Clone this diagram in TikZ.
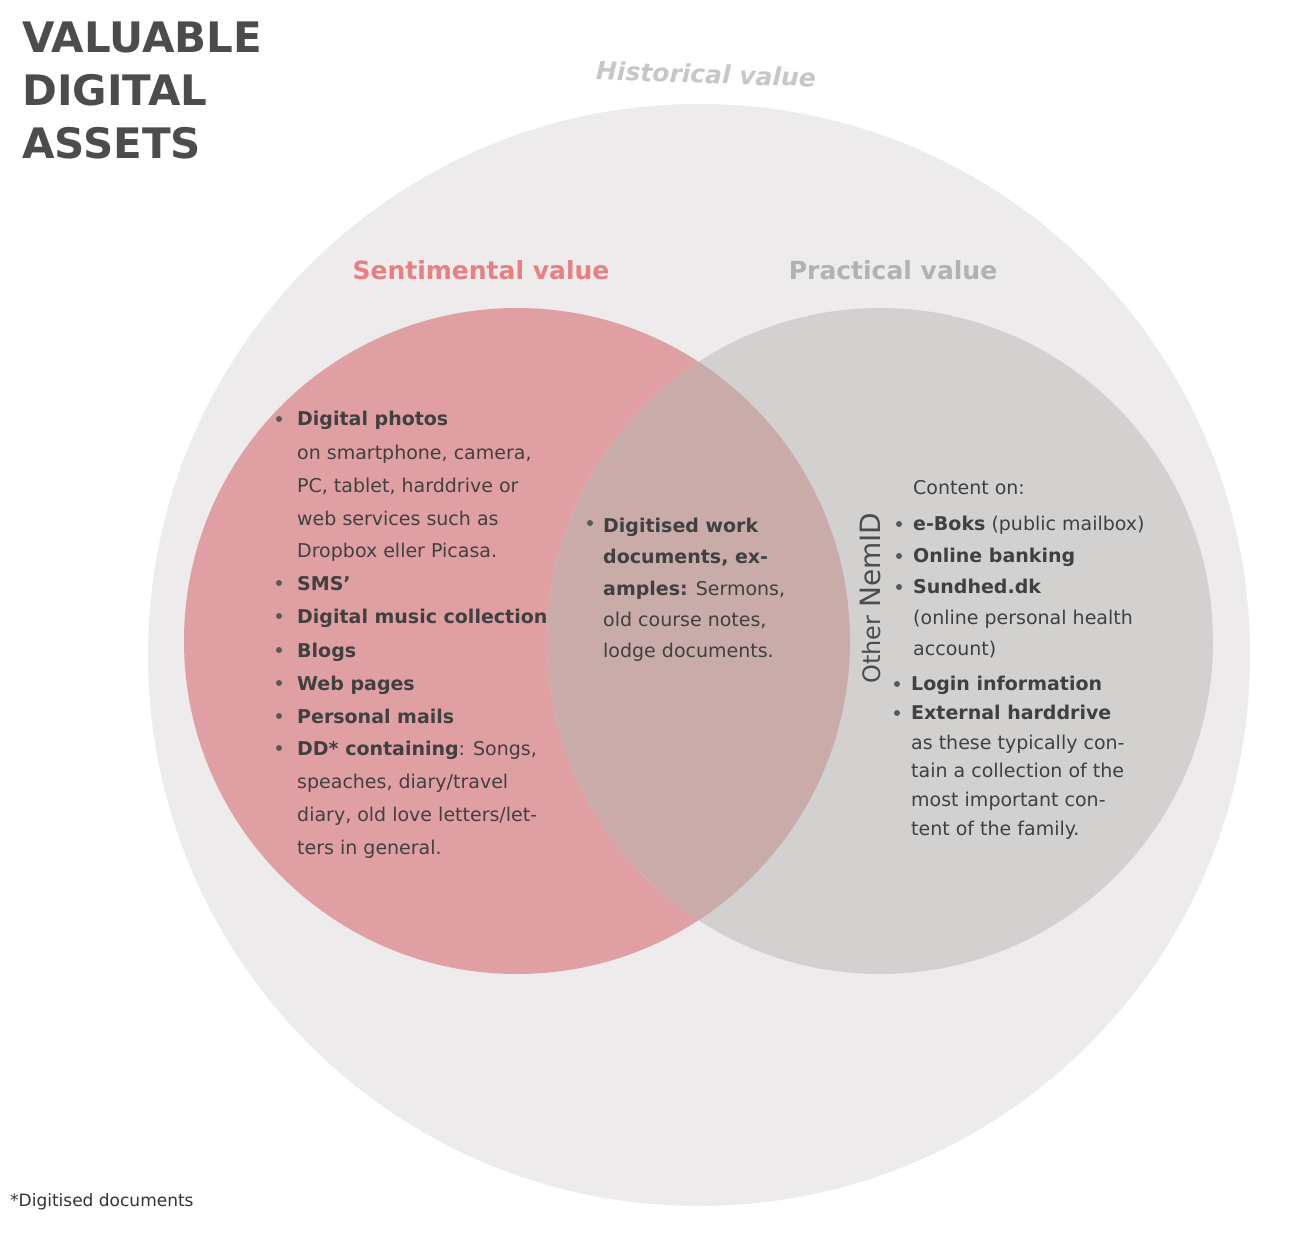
\documentclass[tikz,border=0pt]{standalone}
\usepackage{fontspec}
\setmainfont{DejaVu Sans}
\begin{document}
\begin{tikzpicture}[x=1pt,y=-1pt,
  txt/.style={anchor=base west,inner sep=0pt,text=black!75,font=\fontsize{19}{22}\selectfont},
  bul/.style={circle,fill=black!65,inner sep=0pt,minimum size=6pt},
  head/.style={inner sep=0pt,font=\bfseries\fontsize{25}{28}\selectfont}]
\definecolor{big}{HTML}{EDEBEB}
\definecolor{pink}{HTML}{E0A0A3}
\definecolor{grayc}{HTML}{D2D1D0}
\definecolor{ovl}{HTML}{C9ABAA}
\useasboundingbox (0,0) rectangle (1292,1238);
\fill[white] (0,0) rectangle (1292,1238);
\fill[big] (699,655) circle (551);
\fill[pink] (517,641) circle (333);
\fill[grayc] (880,641) circle (333);
\begin{scope}
\clip (517,641) circle (333);
\fill[ovl] (880,641) circle (333);
\end{scope}
\node[anchor=north west,inner sep=0pt,align=left,text=black!70,font=\bfseries\fontsize{42}{53}\selectfont] (title) at (22,22) {VALUABLE\\DIGITAL\\ASSETS};
\node[head,text=black!22,font=\bfseries\itshape\fontsize{25}{28}\selectfont,rotate=-2] (hist) at (706,74) {Historical value};
\node[head,text=pink!80!red] (sent) at (481,270) {Sentimental value};
\node[head,text=black!30] (prac) at (893,270) {Practical value};
\newcommand{\tl}[4]{\node[txt] (#1) at (#2,#3+7) {#4};}
\newcommand{\bl}[3]{\node[bul] (#1) at (#2,#3) {};}
% left
\bl{b1}{279}{419}\tl{l1}{297}{418}{\textbf{Digital photos}}
\tl{l2}{297}{452}{on smartphone, camera,}
\tl{l3}{297}{485}{PC, tablet, harddrive or}
\tl{l4}{297}{518}{web services such as}
\tl{l5}{297}{550}{Dropbox eller Picasa.}
\bl{b2}{279}{583}\tl{l6}{297}{583}{\textbf{SMS’}}
\bl{b3}{279}{616}\tl{l7}{297}{616}{\textbf{Digital music collection}}
\bl{b4}{279}{650}\tl{l8}{297}{650}{\textbf{Blogs}}
\bl{b5}{279}{683}\tl{l9}{297}{683}{\textbf{Web pages}}
\bl{b6}{279}{716}\tl{l10}{297}{716}{\textbf{Personal mails}}
\bl{b7}{279}{748}\tl{l11}{297}{748}{\textbf{DD* containing}: Songs,}
\tl{l12}{297}{781}{speaches, diary/travel}
\tl{l13}{297}{814}{diary, old love letters/let-}
\tl{l14}{297}{847}{ters in general.}
% middle
\bl{b8}{590}{523}\tl{m1}{603}{525}{\textbf{Digitised work}}
\tl{m2}{603}{556}{\textbf{documents, ex-}}
\tl{m3}{603}{588}{\textbf{amples:} Sermons,}
\tl{m4}{603}{619}{old course notes,}
\tl{m5}{603}{650}{lodge documents.}
% right
\tl{r1}{913}{487}{Content on:}
\bl{b9}{899}{524}\tl{r2}{913}{523}{\textbf{e-Boks} (public mailbox)}
\bl{b10}{899}{556}\tl{r3}{913}{555}{\textbf{Online banking}}
\bl{b11}{899}{587}\tl{r4}{913}{586}{\textbf{Sundhed.dk}}
\tl{r5}{913}{617}{(online personal health}
\tl{r6}{913}{648}{account)}
\bl{b12}{897}{684}\tl{r7}{911}{683}{\textbf{Login information}}
\bl{b13}{897}{713}\tl{r8}{911}{712}{\textbf{External harddrive}}
\tl{r9}{911}{742}{as these typically con-}
\tl{r10}{911}{770}{tain a collection of the}
\tl{r11}{911}{799}{most important con-}
\tl{r12}{911}{828}{tent of the family.}
\node[rotate=90,inner sep=0pt,text=black!70] (vert) at (870,598) {{\fontsize{24}{26}\selectfont Other }{\fontsize{28}{30}\selectfont NemID}};
\node[anchor=base west,inner sep=0pt,text=black!80,font=\fontsize{17}{20}\selectfont] (foot) at (10,1206) {*Digitised documents};
\end{tikzpicture}
\end{document}
